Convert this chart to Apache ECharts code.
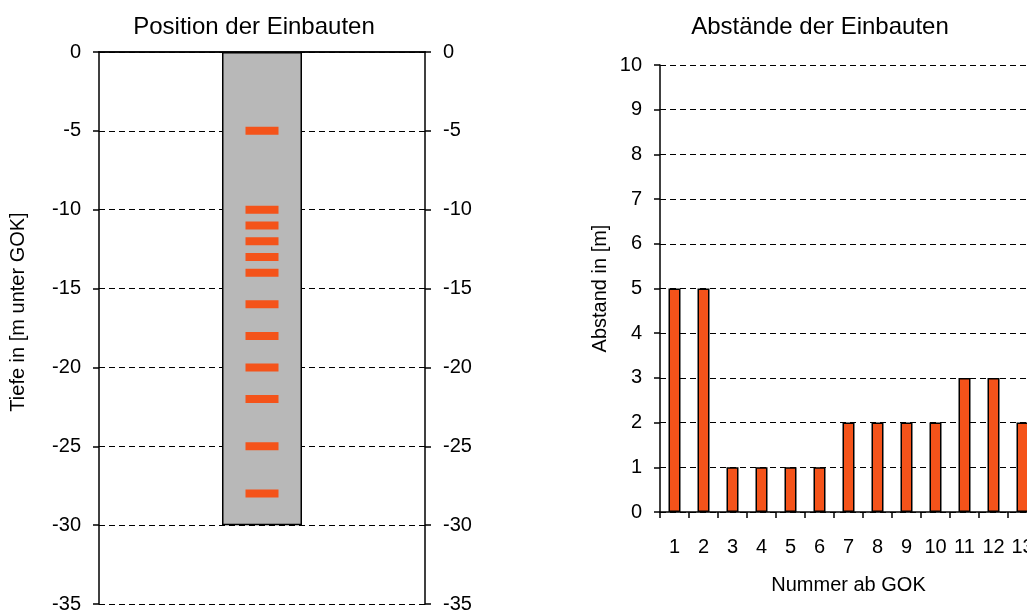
<!DOCTYPE html>
<html>
<head>
<meta charset="utf-8">
<script src="https://cdn.jsdelivr.net/npm/echarts@6/dist/echarts.min.js"></script>
<style>
  html, body { margin: 0; padding: 0; background: #fff; }
  #main { width: 1027px; height: 614px; }
</style>
</head>
<body>
<div id="main"></div>
<script>
// Position der Einbauten (Tiefe in m unter GOK)
const depths = [-5, -10, -11, -12, -13, -14, -16, -18, -20, -22, -25, -28];
const pipeDepth = [-30];
// Abstände der Einbauten
const numbers = ['1', '2', '3', '4', '5', '6', '7', '8', '9', '10', '11', '12', '13'];
const distances = [5, 5, 1, 1, 1, 1, 2, 2, 2, 2, 3, 3, 2];

const orange = '#F4531A';
const font = 'Liberation Sans';
const dash = { color: '#000', width: 1, type: [6, 4] };
const txt = { fontSize: 20, color: '#000', fontFamily: font };

var myChart = echarts.init(document.getElementById('main'));

const leftY = (pos) => ({
    type: 'value',
    gridIndex: 0,
    position: pos,
    min: -35,
    max: 0,
    interval: 5,
    axisLine: { show: true, lineStyle: { color: '#000', width: 1.5 } },
    axisTick: { show: true, length: 6, lineStyle: { color: '#000', width: 1.5 } },
    axisLabel: Object.assign({ margin: 18 }, txt),
    splitLine: { show: pos == 'left', lineStyle: dash }
});

myChart.setOption({
    animation: false,
    textStyle: { fontFamily: font },
    title: [
        { text: 'Position der Einbauten', left: 249, top: 10, textAlign: 'center',
          textStyle: { fontSize: 24, fontWeight: 'normal', color: '#000', fontFamily: font } },
        { text: 'Abstände der Einbauten', left: 815, top: 10, textAlign: 'center',
          textStyle: { fontSize: 24, fontWeight: 'normal', color: '#000', fontFamily: font } }
    ],
    grid: [
        { left: 99, top: 52, width: 326, height: 552, outerBoundsMode: 'none' },
        { left: 660, top: 65, width: 377, height: 447, outerBoundsMode: 'none' }
    ],
    xAxis: [
        {
            type: 'category', gridIndex: 0, data: [''], position: 'bottom',
            axisLine: { show: true, lineStyle: { color: '#000', width: 1.5 } },
            axisTick: { show: false }, axisLabel: { show: false }
        },
        {
            type: 'category', gridIndex: 0, data: [''], position: 'top',
            axisLine: { show: true, lineStyle: { color: '#000', width: 1.5 } },
            axisTick: { show: false }, axisLabel: { show: false }
        },
        {
            type: 'category', gridIndex: 1, data: numbers,
            name: 'Nummer ab GOK', nameLocation: 'middle', nameGap: 63,
            nameTextStyle: txt,
            axisLine: { show: true, lineStyle: { color: '#000', width: 1.5 } },
            axisTick: { show: true, length: 6, lineStyle: { color: '#000', width: 1.5 } },
            axisLabel: Object.assign({ margin: 25, interval: 0 }, txt)
        }
    ],
    yAxis: [
        Object.assign(leftY('left'), {
            name: 'Tiefe in [m unter GOK]', nameLocation: 'middle', nameGap: 71,
            nameTextStyle: Object.assign({ padding: [0, 0, 0, 32] }, txt)
        }),
        leftY('right'),
        {
            type: 'value', gridIndex: 1, min: 0, max: 10, interval: 1,
            name: 'Abstand in [m]', nameLocation: 'middle', nameGap: 50,
            nameTextStyle: txt,
            axisLine: { show: true, lineStyle: { color: '#000', width: 1.5 } },
            axisTick: { show: true, length: 6, lineStyle: { color: '#000', width: 1.5 } },
            axisLabel: Object.assign({ margin: 18 }, txt),
            splitLine: { show: true, lineStyle: dash }
        }
    ],
    series: [
        {
            type: 'bar', xAxisIndex: 0, yAxisIndex: 0, data: pipeDepth, barWidth: 80,
            itemStyle: { color: '#B8B8B8', borderColor: '#000', borderWidth: 1.5 }, z: 2
        },
        {
            type: 'scatter', xAxisIndex: 0, yAxisIndex: 0,
            data: depths.map(d => [0, d]),
            symbol: 'rect', symbolSize: [33, 8],
            itemStyle: { color: orange, opacity: 1 }, z: 3
        },
        {
            type: 'bar', xAxisIndex: 2, yAxisIndex: 2, data: distances, barWidth: 12,
            itemStyle: { color: orange, borderColor: '#000', borderWidth: 1.5 }
        }
    ]
});
</script>
</body>
</html>
